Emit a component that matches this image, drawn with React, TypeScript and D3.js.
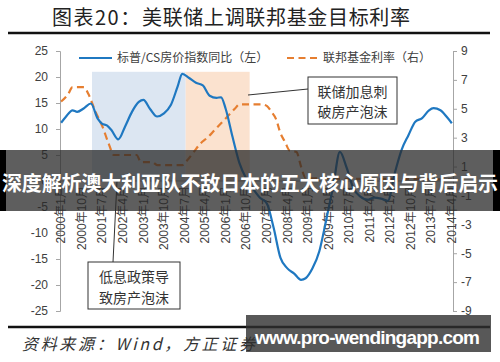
import React, { useRef, useEffect } from 'react';
import * as d3 from 'd3';

// S&P/Case-Shiller YoY (%), left axis
const hpiDates = [
  '2000-01', '2000-03', '2000-06', '2000-08', '2000-11', '2001-02', '2001-05', '2001-07',
  '2001-09', '2001-11', '2002-02', '2002-05', '2002-08', '2002-11', '2003-01', '2003-04',
  '2003-07', '2003-10', '2004-01', '2004-04', '2004-06', '2004-09', '2004-12', '2005-03',
  '2005-06', '2005-09', '2005-11', '2006-01', '2006-04', '2006-07', '2006-10', '2007-01',
  '2007-04', '2007-07', '2007-10', '2008-01', '2008-04', '2008-07', '2008-10', '2008-12',
  '2009-03', '2009-06', '2009-09', '2009-12', '2010-03', '2010-06', '2010-09', '2010-12',
  '2011-03', '2011-06', '2011-09', '2011-12', '2012-03', '2012-06', '2012-09', '2012-12',
  '2013-03', '2013-06', '2013-08', '2013-11', '2014-02', '2014-04',
];
const hpiValues = [
  11.2, 12.3, 13.6, 13.3, 14.0, 14.9, 12.0, 11.0,
  10.7, 9.8, 8.0, 10.5, 13.3, 15.2, 15.6, 13.8,
  12.4, 13.0, 14.6, 18.2, 20.6, 19.8, 18.9, 18.4,
  16.4, 16.0, 16.1, 13.9, 8.5, 3.5, 0.5, -1.5,
  -3.2, -4.3, -9.0, -14.8, -16.8, -17.8, -19.0, -18.7,
  -16.8, -13.5, -7.5, -1.2, 5.6, 2.5, -1.5, -3.0,
  -3.6, -3.2, -3.4, -3.8, 1.5, 6.0, 8.8, 11.4,
  12.1, 13.6, 14.0, 13.6, 12.2, 11.1,
];

// Federal funds rate (%), right axis
const fedDates = [
  '2000-01', '2000-04', '2000-06', '2000-11', '2001-01', '2001-04', '2001-07', '2001-10',
  '2001-12', '2002-10', '2002-12', '2003-05', '2003-07', '2004-06', '2004-08', '2004-11',
  '2005-02', '2005-05', '2005-08', '2005-11', '2006-02', '2006-05', '2006-07', '2007-05',
  '2007-07', '2007-09', '2007-11', '2008-01', '2008-03', '2008-05', '2008-08', '2008-10',
  '2008-12', '2010-06', '2012-06', '2014-04',
];
const fedValues = [
  5.5, 6.0, 6.5, 6.5, 6.0, 4.8, 3.8, 2.5,
  1.8, 1.8, 1.3, 1.3, 1.1, 1.1, 1.4, 2.0,
  2.6, 3.0, 3.5, 4.0, 4.5, 5.0, 5.3, 5.3,
  5.2, 4.8, 4.3, 3.3, 2.7, 2.1, 2.0, 1.0,
  0.2, 0.15, 0.15, 0.1,
];

const xTickLabels = [
  '2000年1月', '2000年10月', '2001年7月', '2002年4月', '2003年1月', '2003年10月', '2004年7月',
  '2005年4月', '2006年1月', '2006年10月', '2007年7月', '2008年4月', '2009年1月', '2009年10月',
  '2010年7月', '2011年4月', '2012年1月', '2012年10月', '2013年7月', '2014年4月',
];
const leftTicks = [25, 20, 15, 10, 5, 0, -5, -10, -15, -20, -25];
const rightTicks = [9, 7, 5, 3, 1, -1, -3, -5, -7, -9];

// shaded periods: [start, end, top value on left axis]
const lowRatePeriod = ['2001-03', '2004-08'];
const hikePeriod = ['2004-08', '2006-12'];
const shadeTop = 21;

const monthIndex = (s: string) => {
  const [y, m] = s.split(/[-年月]/).map(Number);
  return (y - 2000) * 12 + (m - 1);
};

const CJK = '"Noto Sans CJK SC", "Noto Sans", sans-serif';
const NUM = '"Liberation Sans", "Noto Sans CJK SC", sans-serif';

export default function App() {
  const leftRef = useRef<SVGGElement>(null);
  const rightRef = useRef<SVGGElement>(null);

  const x = d3.scaleLinear().domain([-0.5, 171.5]).range([60, 453]);
  const yLeft = d3.scaleLinear().domain([-25, 25]).range([311, 51]);
  const yRight = d3.scaleLinear().domain([-9, 9]).range([311, 51]);

  useEffect(() => {
    const style = (g: any) => {
      g.attr('font-size', 12).attr('font-family', NUM);
      g.select('.domain').attr('stroke', '#a6a6a6');
      g.selectAll('.tick line').attr('stroke', '#a6a6a6');
      g.selectAll('.tick text').attr('fill', '#404040');
    };
    d3.select(leftRef.current)
      .call(d3.axisLeft(yLeft).tickValues(leftTicks).tickSize(4).tickPadding(8).tickFormat((d: any) => String(d)) as any)
      .call(style);
    d3.select(rightRef.current)
      .call(d3.axisRight(yRight).tickValues(rightTicks).tickSize(4).tickPadding(4).tickFormat((d: any) => String(d)) as any)
      .call(style);
  }, []);

  const hpiPts = hpiDates.map((d, i) => [monthIndex(d), hpiValues[i]] as [number, number]);
  const fedPts = fedDates.map((d, i) => [monthIndex(d), fedValues[i]] as [number, number]);

  const hpiLine = d3.line<[number, number]>()
    .x(d => x(d[0])).y(d => yLeft(d[1])).curve(d3.curveMonotoneX);
  const fedLine = d3.line<[number, number]>()
    .x(d => x(d[0])).y(d => yRight(d[1])).curve(d3.curveMonotoneX);

  const band = (p: string[]) => {
    const x0 = x(monthIndex(p[0]) - 0.5);
    const x1 = x(monthIndex(p[1]) - 0.5);
    return { x: x0, width: x1 - x0, y: yLeft(shadeTop), height: yLeft(0) - yLeft(shadeTop) };
  };

  return (
    <svg width={500} height={362} style={{ position: 'absolute', left: 0, top: 0, background: '#fff' }}>
      {/* title */}
      <text x={52} y={25} fontFamily={CJK} fontSize={20} fill="#222" letterSpacing={1.5}>图表20：</text>
      <text x={142} y={25} fontFamily={CJK} fontSize={20} fill="#222" textLength={268}>美联储上调联邦基金目标利率</text>
      <line x1={8} x2={490} y1={33} y2={33} stroke="#111" strokeWidth={2.5} />

      {/* shaded periods */}
      <rect {...band(lowRatePeriod)} fill="#dce6f2" />
      <rect {...band(hikePeriod)} fill="#fbe2cf" />

      {/* legend */}
      <line x1={79} x2={112} y1={58} y2={58} stroke="#1f78c1" strokeWidth={2.2} />
      <text x={117} y={62} fontFamily={CJK} fontSize={12} fill="#404040">标普/CS房价指数同比（左）</text>
      <line x1={287} x2={320} y1={58} y2={58} stroke="#e67e30" strokeWidth={2.2} strokeDasharray="7,4.5" />
      <text x={323} y={62} fontFamily={CJK} fontSize={12} fill="#404040">联邦基金利率（右）</text>

      {/* axes */}
      <g ref={leftRef} transform="translate(60,0)" />
      <g ref={rightRef} transform="translate(453,0)" />
      <line x1={60} x2={453} y1={yLeft(0)} y2={yLeft(0)} stroke="#a6a6a6" />

      {/* category labels */}
      {xTickLabels.map(l => (
        <text key={l} transform={`translate(${x(monthIndex(l))},${yLeft(0) + 5}) rotate(-90)`}
          textAnchor="end" dy="0.35em" fontFamily={NUM} fontSize={12} fill="#404040">{l}</text>
      ))}

      {/* series */}
      <path d={fedLine(fedPts) || ''} fill="none" stroke="#e67e30" strokeWidth={2.2} strokeDasharray="7,4.5" />
      <path d={hpiLine(hpiPts) || ''} fill="none" stroke="#1f78c1" strokeWidth={2.2} />

      {/* annotations */}
      <line x1={248} y1={95} x2={308} y2={89} stroke="#333" strokeWidth={1} />
      <rect x={308} y={77} width={89} height={47} fill="#fff" stroke="#333" strokeWidth={1} />
      <text x={352.5} y={97} textAnchor="middle" fontFamily={CJK} fontSize={14} fill="#333">联储加息刺</text>
      <text x={352.5} y={117} textAnchor="middle" fontFamily={CJK} fontSize={14} fill="#333">破房产泡沫</text>

      <line x1={117} y1={181} x2={113} y2={262} stroke="#333" strokeWidth={1} />
      <rect x={88} y={262} width={92} height={47} fill="#fff" stroke="#333" strokeWidth={1} />
      <text x={134} y={282} textAnchor="middle" fontFamily={CJK} fontSize={14} fill="#333">低息政策导</text>
      <text x={134} y={303} textAnchor="middle" fontFamily={CJK} fontSize={14} fill="#333">致房产泡沫</text>

      {/* footer */}
      <line x1={8} x2={490} y1={327} y2={327} stroke="#111" strokeWidth={2.5} />
      <text x={22} y={350} fontFamily={CJK} fontSize={16} fontStyle="italic" fill="#333" textLength={233}>资料来源：Wind，方正证券</text>

      {/* overlay banner */}
      <rect x={0} y={150} width={500} height={61} fill="#282828" opacity={0.75} />
      <rect x={0} y={150} width={6} height={61} fill="#000" />
      <rect x={493} y={150} width={7} height={61} fill="#000" />
      <text x={2} y={191} fontFamily={CJK} fontWeight={700} fontSize={20} fill="#fff" textLength={496}>深度解析澳大利亚队不敌日本的五大核心原因与背后启示</text>

      {/* watermark */}
      <rect x={246} y={315} width={245} height={37} fill="#2e2e2e" opacity={0.8} />
      <text x={255} y={344} fontFamily={NUM} fontWeight={700} fontSize={19} fill="#fff" textLength={225}>www.pro-wendingapp.com</text>
    </svg>
  );
}
